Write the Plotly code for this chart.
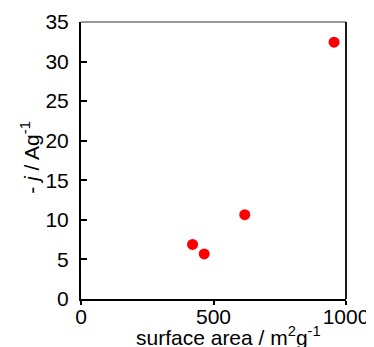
import plotly.graph_objects as go

surface_area = [421, 465, 618, 955]
current_density = [6.9, 5.7, 10.65, 32.45]
x_ticks = [0, 500, 1000]
y_ticks = [0, 5, 10, 15, 20, 25, 30, 35]
x_title = "surface area / m<sup>2</sup>g<sup>-1</sup>"
y_title = "- <i>j</i> / Ag<sup>-1</sup>"

FONT = "Liberation Sans, Arial, sans-serif"

fig = go.Figure()
fig.add_trace(go.Scatter(
    x=surface_area, y=current_density, mode="markers",
    marker=dict(color="#ff0000", size=11, line=dict(width=0)),
    showlegend=False, cliponaxis=False,
))

# page body has an 8px default margin, so the figure is shrunk by 8px on each axis
fig.update_layout(
    width=366, height=339,
    margin=dict(l=73, r=28, t=14, b=48, autoexpand=False),
    paper_bgcolor="white", plot_bgcolor="white",
    font=dict(family=FONT, size=21, color="black"),
    xaxis=dict(
        range=[0, 1000], tickvals=x_ticks, ticktext=[str(v) for v in x_ticks],
        showgrid=False, zeroline=False, showline=True, linecolor="black", linewidth=2,
        ticks="outside", ticklen=4, tickwidth=1.5, tickcolor="black",
        tickfont=dict(size=21), ticklabelstandoff=-6, automargin=False,
    ),
    yaxis=dict(
        range=[0, 35], tickvals=y_ticks, ticktext=[str(v) for v in y_ticks],
        showgrid=False, zeroline=False, showline=True, linecolor="black", linewidth=2,
        ticks="inside", ticklen=6, tickwidth=1.5, tickcolor="black",
        tickfont=dict(size=21), ticklabelstandoff=6, automargin=False,
    ),
    shapes=[
        dict(type="line", xref="paper", yref="paper", x0=0, x1=1, y0=1, y1=1,
             line=dict(color="#333333", width=1.2)),
        dict(type="line", xref="paper", yref="paper", x0=1, x1=1, y0=0, y1=1,
             line=dict(color="black", width=1.8)),
    ],
    annotations=[
        dict(text=x_title, xref="paper", yref="paper", x=0.555, y=0,
             yshift=-37, xanchor="center", yanchor="middle", showarrow=False,
             font=dict(size=21)),
        dict(text=y_title, xref="paper", yref="paper", x=0, y=0.51,
             xshift=-51, xanchor="center", yanchor="middle", showarrow=False,
             textangle=-90, font=dict(size=21)),
    ],
)

fig.write_html("out.html")
